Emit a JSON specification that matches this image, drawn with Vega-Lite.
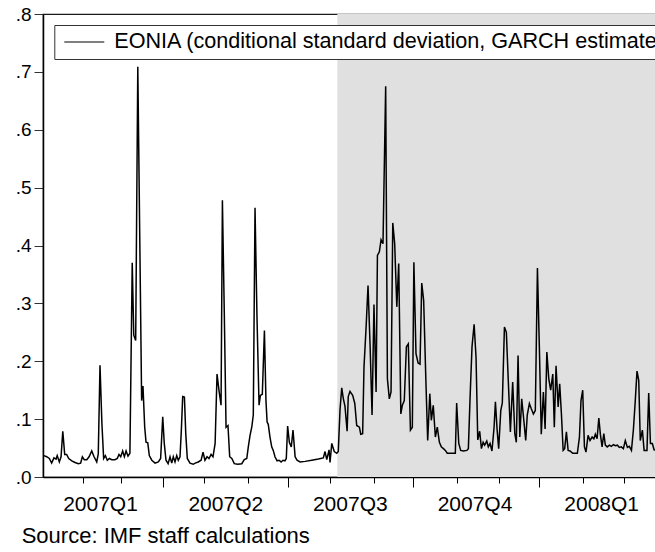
{
  "$schema": "https://vega.github.io/schema/vega-lite/v6.json",
  "autosize": {"type": "none"},
  "width": 613,
  "height": 463,
  "padding": {"left": 43, "top": 14, "right": 0, "bottom": 75},
  "background": "white",
  "config": {
    "font": "Liberation Sans",
    "view": {"stroke": "#1a1a1a", "strokeWidth": 1.2},
    "axis": {"grid": false, "domainColor": "black", "tickColor": "black", "labelColor": "black", "labelFont": "Liberation Sans"}
  },
  "title": {
    "text": "Source: IMF staff calculations",
    "orient": "bottom",
    "anchor": "start",
    "frame": "group",
    "dx": -21.3,
    "offset": 12,
    "fontSize": 22,
    "fontWeight": "normal",
    "font": "Liberation Sans",
    "color": "black"
  },
  "resolve": {"axis": {"x": "independent"}},
  "layer": [
    {
      "data": {"values": [{"start": 155.7, "end": 330}]},
      "mark": {"type": "rect", "color": "#e0e0e0", "clip": true},
      "encoding": {
        "x": {
          "field": "start",
          "type": "quantitative",
          "scale": {"domain": [2.29, 321.8], "nice": false, "zero": false},
          "axis": {
            "orient": "bottom",
            "title": null,
            "domain": false,
            "values": [32, 65, 97.3, 130, 162.2, 195, 227.2, 261, 293.2],
            "labelExpr": "datum.value == 32 ? '2007Q1' : datum.value == 97.3 ? '2007Q2' : datum.value == 162.2 ? '2007Q3' : datum.value == 227.2 ? '2007Q4' : datum.value == 293.2 ? '2008Q1' : ''",
            "tickSize": 10,
            "tickWidth": 1,
            "tickOpacity": {"condition": {"test": "indexof([65,130,195,261], datum.value) >= 0", "value": 1}, "value": 0},
            "labelFontSize": 21,
            "labelPadding": 6,
            "labelOverlap": false,
            "labelFlush": false,
            "labelBound": false
          }
        },
        "x2": {"field": "end"}
      }
    },
    {
      "data": {"values": [
        {"obs": 2.8, "sd": 0.037}, {"obs": 4.2, "sd": 0.035}, {"obs": 5.6, "sd": 0.032}, {"obs": 6.8, "sd": 0.024},
        {"obs": 8.0, "sd": 0.033}, {"obs": 9.1, "sd": 0.031}, {"obs": 9.7, "sd": 0.037}, {"obs": 10.8, "sd": 0.026},
        {"obs": 11.7, "sd": 0.035}, {"obs": 12.6, "sd": 0.079}, {"obs": 13.6, "sd": 0.039}, {"obs": 14.6, "sd": 0.039},
        {"obs": 15.7, "sd": 0.032}, {"obs": 17.3, "sd": 0.028}, {"obs": 19.0, "sd": 0.025}, {"obs": 20.7, "sd": 0.023},
        {"obs": 21.9, "sd": 0.024}, {"obs": 22.8, "sd": 0.035}, {"obs": 23.8, "sd": 0.030}, {"obs": 25.1, "sd": 0.030},
        {"obs": 26.3, "sd": 0.035}, {"obs": 27.7, "sd": 0.045}, {"obs": 28.9, "sd": 0.035}, {"obs": 30.3, "sd": 0.026},
        {"obs": 31.1, "sd": 0.040}, {"obs": 32.0, "sd": 0.193}, {"obs": 33.0, "sd": 0.092}, {"obs": 33.9, "sd": 0.032},
        {"obs": 34.8, "sd": 0.037}, {"obs": 35.8, "sd": 0.029}, {"obs": 36.9, "sd": 0.032}, {"obs": 38.1, "sd": 0.030},
        {"obs": 39.8, "sd": 0.030}, {"obs": 41.0, "sd": 0.032}, {"obs": 41.9, "sd": 0.039}, {"obs": 42.8, "sd": 0.035},
        {"obs": 43.8, "sd": 0.045}, {"obs": 44.7, "sd": 0.035}, {"obs": 45.6, "sd": 0.045}, {"obs": 46.6, "sd": 0.036},
        {"obs": 47.6, "sd": 0.041}, {"obs": 48.8, "sd": 0.370}, {"obs": 49.6, "sd": 0.245}, {"obs": 50.6, "sd": 0.236},
        {"obs": 51.7, "sd": 0.709}, {"obs": 52.7, "sd": 0.420}, {"obs": 53.7, "sd": 0.132}, {"obs": 54.4, "sd": 0.157},
        {"obs": 55.3, "sd": 0.086}, {"obs": 56.0, "sd": 0.060}, {"obs": 56.9, "sd": 0.059}, {"obs": 57.7, "sd": 0.037},
        {"obs": 59.0, "sd": 0.029}, {"obs": 60.7, "sd": 0.024}, {"obs": 62.4, "sd": 0.026}, {"obs": 63.6, "sd": 0.032},
        {"obs": 64.7, "sd": 0.104}, {"obs": 65.5, "sd": 0.058}, {"obs": 66.4, "sd": 0.029}, {"obs": 67.5, "sd": 0.023},
        {"obs": 68.5, "sd": 0.035}, {"obs": 69.4, "sd": 0.024}, {"obs": 70.2, "sd": 0.035}, {"obs": 71.1, "sd": 0.026},
        {"obs": 72.0, "sd": 0.037}, {"obs": 72.8, "sd": 0.029}, {"obs": 73.7, "sd": 0.035}, {"obs": 74.4, "sd": 0.081},
        {"obs": 75.1, "sd": 0.139}, {"obs": 76.0, "sd": 0.138}, {"obs": 76.7, "sd": 0.075}, {"obs": 77.5, "sd": 0.032},
        {"obs": 78.9, "sd": 0.024}, {"obs": 80.6, "sd": 0.022}, {"obs": 81.6, "sd": 0.024}, {"obs": 83.2, "sd": 0.026},
        {"obs": 84.7, "sd": 0.029}, {"obs": 85.7, "sd": 0.043}, {"obs": 86.7, "sd": 0.029}, {"obs": 87.8, "sd": 0.035},
        {"obs": 88.8, "sd": 0.032}, {"obs": 89.9, "sd": 0.039}, {"obs": 90.9, "sd": 0.035}, {"obs": 92.0, "sd": 0.058},
        {"obs": 93.0, "sd": 0.178}, {"obs": 94.0, "sd": 0.150}, {"obs": 95.1, "sd": 0.124}, {"obs": 95.8, "sd": 0.478},
        {"obs": 96.8, "sd": 0.280}, {"obs": 97.7, "sd": 0.086}, {"obs": 98.7, "sd": 0.089}, {"obs": 99.6, "sd": 0.035},
        {"obs": 100.7, "sd": 0.032}, {"obs": 102.0, "sd": 0.023}, {"obs": 103.8, "sd": 0.022}, {"obs": 105.9, "sd": 0.023},
        {"obs": 107.2, "sd": 0.030}, {"obs": 108.5, "sd": 0.032}, {"obs": 109.3, "sd": 0.052}, {"obs": 110.2, "sd": 0.072},
        {"obs": 111.1, "sd": 0.086}, {"obs": 111.9, "sd": 0.107}, {"obs": 112.8, "sd": 0.465}, {"obs": 113.8, "sd": 0.280},
        {"obs": 114.9, "sd": 0.124}, {"obs": 115.6, "sd": 0.141}, {"obs": 116.6, "sd": 0.143}, {"obs": 117.7, "sd": 0.253},
        {"obs": 118.5, "sd": 0.132}, {"obs": 119.1, "sd": 0.095}, {"obs": 119.7, "sd": 0.091}, {"obs": 120.6, "sd": 0.069},
        {"obs": 121.5, "sd": 0.052}, {"obs": 122.3, "sd": 0.046}, {"obs": 123.2, "sd": 0.035}, {"obs": 124.3, "sd": 0.028},
        {"obs": 125.3, "sd": 0.029}, {"obs": 126.4, "sd": 0.026}, {"obs": 127.4, "sd": 0.029}, {"obs": 128.4, "sd": 0.028},
        {"obs": 129.1, "sd": 0.032}, {"obs": 129.8, "sd": 0.088}, {"obs": 130.7, "sd": 0.060}, {"obs": 131.7, "sd": 0.052},
        {"obs": 132.6, "sd": 0.081}, {"obs": 133.7, "sd": 0.035}, {"obs": 134.7, "sd": 0.029}, {"obs": 136.3, "sd": 0.026},
        {"obs": 138.9, "sd": 0.027}, {"obs": 142.4, "sd": 0.029}, {"obs": 145.8, "sd": 0.031}, {"obs": 148.4, "sd": 0.033},
        {"obs": 149.3, "sd": 0.044}, {"obs": 150.2, "sd": 0.030}, {"obs": 151.4, "sd": 0.047}, {"obs": 151.9, "sd": 0.025},
        {"obs": 152.8, "sd": 0.058}, {"obs": 154.1, "sd": 0.044}, {"obs": 155.4, "sd": 0.041}, {"obs": 156.2, "sd": 0.044},
        {"obs": 157.1, "sd": 0.116}, {"obs": 158.0, "sd": 0.154}, {"obs": 158.8, "sd": 0.136}, {"obs": 159.7, "sd": 0.122},
        {"obs": 160.8, "sd": 0.079}, {"obs": 161.4, "sd": 0.139}, {"obs": 162.3, "sd": 0.148}, {"obs": 163.7, "sd": 0.141},
        {"obs": 164.8, "sd": 0.127}, {"obs": 165.8, "sd": 0.089}, {"obs": 167.2, "sd": 0.086}, {"obs": 167.9, "sd": 0.074},
        {"obs": 168.9, "sd": 0.075}, {"obs": 169.6, "sd": 0.190}, {"obs": 170.7, "sd": 0.259}, {"obs": 171.7, "sd": 0.331},
        {"obs": 172.8, "sd": 0.225}, {"obs": 173.8, "sd": 0.107}, {"obs": 174.8, "sd": 0.298}, {"obs": 175.9, "sd": 0.147},
        {"obs": 176.6, "sd": 0.383}, {"obs": 177.6, "sd": 0.389}, {"obs": 178.5, "sd": 0.410}, {"obs": 179.5, "sd": 0.403},
        {"obs": 180.9, "sd": 0.675}, {"obs": 181.8, "sd": 0.170}, {"obs": 182.8, "sd": 0.135}, {"obs": 183.7, "sd": 0.147},
        {"obs": 184.6, "sd": 0.439}, {"obs": 185.6, "sd": 0.403}, {"obs": 186.7, "sd": 0.294}, {"obs": 187.7, "sd": 0.369},
        {"obs": 188.8, "sd": 0.109}, {"obs": 189.6, "sd": 0.124}, {"obs": 190.6, "sd": 0.132}, {"obs": 191.7, "sd": 0.225},
        {"obs": 192.7, "sd": 0.230}, {"obs": 193.8, "sd": 0.081}, {"obs": 194.8, "sd": 0.086}, {"obs": 195.6, "sd": 0.371},
        {"obs": 196.7, "sd": 0.213}, {"obs": 197.8, "sd": 0.197}, {"obs": 198.8, "sd": 0.195}, {"obs": 199.7, "sd": 0.335},
        {"obs": 200.7, "sd": 0.305}, {"obs": 201.8, "sd": 0.173}, {"obs": 202.8, "sd": 0.063}, {"obs": 203.9, "sd": 0.144},
        {"obs": 204.7, "sd": 0.098}, {"obs": 205.7, "sd": 0.124}, {"obs": 206.8, "sd": 0.069}, {"obs": 207.8, "sd": 0.086},
        {"obs": 208.9, "sd": 0.060}, {"obs": 209.9, "sd": 0.052}, {"obs": 211.0, "sd": 0.049}, {"obs": 212.0, "sd": 0.046},
        {"obs": 213.0, "sd": 0.041}, {"obs": 214.5, "sd": 0.041}, {"obs": 216.2, "sd": 0.041}, {"obs": 217.2, "sd": 0.041},
        {"obs": 217.9, "sd": 0.128}, {"obs": 219.0, "sd": 0.058}, {"obs": 220.0, "sd": 0.046}, {"obs": 221.4, "sd": 0.045},
        {"obs": 223.2, "sd": 0.046}, {"obs": 224.0, "sd": 0.049}, {"obs": 224.9, "sd": 0.138}, {"obs": 225.9, "sd": 0.225},
        {"obs": 227.0, "sd": 0.264}, {"obs": 228.0, "sd": 0.207}, {"obs": 228.9, "sd": 0.064}, {"obs": 229.9, "sd": 0.079},
        {"obs": 230.8, "sd": 0.049}, {"obs": 231.7, "sd": 0.060}, {"obs": 232.5, "sd": 0.055}, {"obs": 233.6, "sd": 0.062},
        {"obs": 234.4, "sd": 0.052}, {"obs": 235.3, "sd": 0.058}, {"obs": 236.3, "sd": 0.045}, {"obs": 237.4, "sd": 0.086},
        {"obs": 238.1, "sd": 0.130}, {"obs": 239.0, "sd": 0.081}, {"obs": 239.8, "sd": 0.049}, {"obs": 240.9, "sd": 0.115},
        {"obs": 241.7, "sd": 0.128}, {"obs": 242.8, "sd": 0.259}, {"obs": 243.8, "sd": 0.250}, {"obs": 244.8, "sd": 0.167},
        {"obs": 245.9, "sd": 0.078}, {"obs": 247.1, "sd": 0.164}, {"obs": 248.2, "sd": 0.075}, {"obs": 249.0, "sd": 0.060},
        {"obs": 249.9, "sd": 0.210}, {"obs": 250.8, "sd": 0.069}, {"obs": 251.8, "sd": 0.135}, {"obs": 252.9, "sd": 0.098},
        {"obs": 253.9, "sd": 0.063}, {"obs": 254.7, "sd": 0.107}, {"obs": 255.8, "sd": 0.127}, {"obs": 256.8, "sd": 0.118},
        {"obs": 257.9, "sd": 0.109}, {"obs": 258.9, "sd": 0.115}, {"obs": 260.0, "sd": 0.361}, {"obs": 261.0, "sd": 0.225},
        {"obs": 262.0, "sd": 0.074}, {"obs": 263.1, "sd": 0.147}, {"obs": 264.0, "sd": 0.083}, {"obs": 264.9, "sd": 0.216},
        {"obs": 265.9, "sd": 0.170}, {"obs": 266.9, "sd": 0.150}, {"obs": 268.0, "sd": 0.178}, {"obs": 268.8, "sd": 0.086},
        {"obs": 269.7, "sd": 0.192}, {"obs": 270.8, "sd": 0.121}, {"obs": 271.6, "sd": 0.161}, {"obs": 272.5, "sd": 0.109},
        {"obs": 273.4, "sd": 0.046}, {"obs": 274.2, "sd": 0.049}, {"obs": 275.1, "sd": 0.078}, {"obs": 276.0, "sd": 0.046},
        {"obs": 277.0, "sd": 0.045}, {"obs": 278.4, "sd": 0.041}, {"obs": 279.8, "sd": 0.041}, {"obs": 280.8, "sd": 0.041},
        {"obs": 281.9, "sd": 0.069}, {"obs": 282.7, "sd": 0.132}, {"obs": 283.6, "sd": 0.150}, {"obs": 284.5, "sd": 0.052},
        {"obs": 285.3, "sd": 0.043}, {"obs": 286.4, "sd": 0.072}, {"obs": 287.4, "sd": 0.063}, {"obs": 288.5, "sd": 0.069},
        {"obs": 289.4, "sd": 0.066}, {"obs": 290.2, "sd": 0.074}, {"obs": 291.1, "sd": 0.066}, {"obs": 292.0, "sd": 0.102},
        {"obs": 292.8, "sd": 0.074}, {"obs": 293.7, "sd": 0.052}, {"obs": 294.6, "sd": 0.075}, {"obs": 295.4, "sd": 0.055},
        {"obs": 296.4, "sd": 0.052}, {"obs": 297.5, "sd": 0.055}, {"obs": 298.5, "sd": 0.053}, {"obs": 299.6, "sd": 0.056},
        {"obs": 300.6, "sd": 0.054}, {"obs": 301.7, "sd": 0.055}, {"obs": 302.7, "sd": 0.051}, {"obs": 303.7, "sd": 0.052},
        {"obs": 304.8, "sd": 0.049}, {"obs": 305.8, "sd": 0.063}, {"obs": 306.9, "sd": 0.051}, {"obs": 307.9, "sd": 0.053},
        {"obs": 309.0, "sd": 0.046}, {"obs": 310.0, "sd": 0.081}, {"obs": 311.0, "sd": 0.132}, {"obs": 311.9, "sd": 0.183},
        {"obs": 312.8, "sd": 0.167}, {"obs": 313.6, "sd": 0.063}, {"obs": 314.7, "sd": 0.081}, {"obs": 315.6, "sd": 0.046},
        {"obs": 316.5, "sd": 0.046}, {"obs": 317.1, "sd": 0.046}, {"obs": 318.0, "sd": 0.145}, {"obs": 318.9, "sd": 0.058},
        {"obs": 319.9, "sd": 0.058}, {"obs": 320.8, "sd": 0.047}, {"obs": 321.8, "sd": 0.046}
      ]},
      "mark": {"type": "line", "strokeWidth": 1.5, "clip": true},
      "encoding": {
        "x": {
          "field": "obs",
          "type": "quantitative",
          "scale": {"domain": [2.29, 321.8], "nice": false, "zero": false},
          "axis": {
            "orient": "bottom",
            "title": null,
            "values": [23, 43, 86, 109, 152, 175, 218, 240, 284, 305],
            "labels": false,
            "tickSize": 6,
            "tickWidth": 1,
            "domainWidth": 1.5
          }
        },
        "y": {
          "field": "sd",
          "type": "quantitative",
          "scale": {"domain": [0, 0.8], "nice": false, "zero": false},
          "axis": {
            "title": null,
            "values": [0, 0.1, 0.2, 0.3, 0.4, 0.5, 0.6, 0.7, 0.8],
            "labelExpr": "replace(format(datum.value, '.1f'), '0.', '.')",
            "tickSize": 9,
            "tickWidth": 1,
            "tickColor": "#333",
            "labelFontSize": 19,
            "labelPadding": 3,
            "domainWidth": 1.5
          }
        },
        "color": {
          "datum": "EONIA (conditional standard deviation, GARCH estimate)",
          "type": "nominal",
          "scale": {"range": ["black"]},
          "legend": {
            "orient": "none",
            "legendX": 11.3,
            "legendY": 11,
            "title": null,
            "symbolType": "M-2,0H2",
            "symbolSize": 400,
            "symbolStrokeWidth": 1.2,
            "symbolFillColor": "transparent",
            "symbolOffset": 13,
            "labelOffset": 19,
            "labelFontSize": 21.6,
            "labelFont": "Liberation Sans",
            "labelColor": "black",
            "labelLimit": 2000,
            "padding": 6,
            "strokeColor": "#333",
            "fillColor": "white"
          }
        }
      }
    }
  ]
}
